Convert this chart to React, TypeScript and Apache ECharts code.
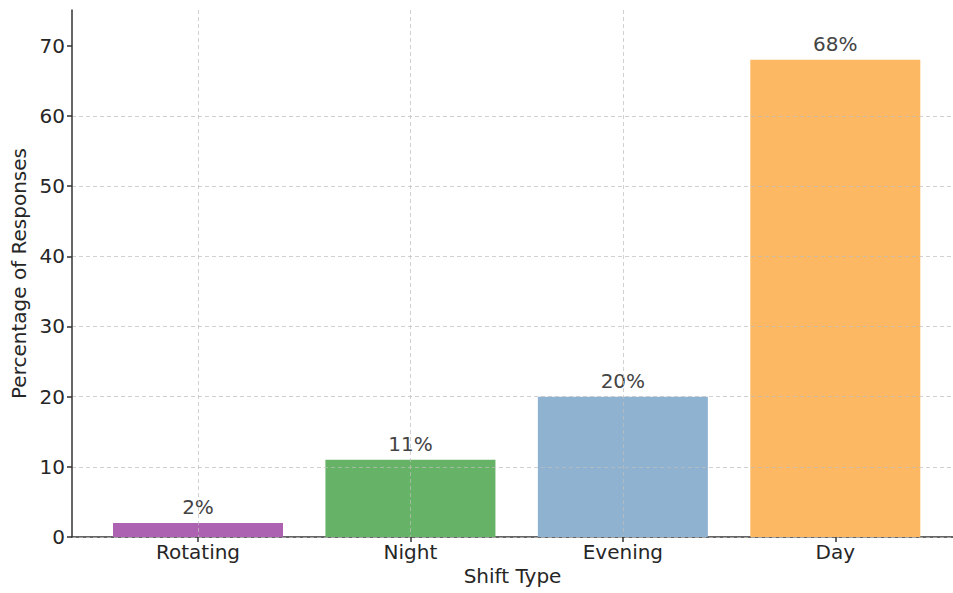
import React, { useEffect, useRef } from "react";
import * as echarts from "echarts";

// Survey results: preferred shift type
const categories = ["Rotating", "Night", "Evening", "Day"];
const percentages = [2, 11, 20, 68];
const barColors = ["#AD62B1", "#66B266", "#8FB2D1", "#FDB863"];
const yTickValues = [0, 10, 20, 30, 40, 50, 60, 70];

const FONT = "DejaVu Sans";
const FONT_SIZE = 20;
const Y_MAX = 75.1;

export default function App() {
  const ref = useRef<HTMLDivElement>(null);

  useEffect(() => {
    document.body.style.margin = "0";
    const chart = echarts.init(ref.current!, null, { renderer: "svg" });

    const spine = { color: "#333333", width: 1.5 };
    const gridLine = {
      show: true,
      showMaxLine: false,
      lineStyle: { color: "rgba(190,190,190,0.7)", type: [4, 3], width: 1 },
    };

    chart.setOption({
      animation: false,
      backgroundColor: "#ffffff",
      textStyle: { fontFamily: FONT },
      grid: [
        // full plotting area (spines, horizontal grid)
        { left: 72, top: 10, width: 892, bottom: 56 },
        // category area spanning first to last bar centre
        { left: 198, top: 10, width: 637.3, bottom: 56 },
      ],
      xAxis: [
        {
          gridIndex: 0,
          type: "value",
          min: 0,
          max: 1,
          axisLine: { show: true, onZero: false, lineStyle: spine },
          axisTick: { show: false },
          axisLabel: { show: false },
          splitLine: { show: false },
          name: "Shift Type",
          nameLocation: "middle",
          nameGap: 29,
          nameTextStyle: { fontSize: FONT_SIZE, color: "#262626", fontFamily: FONT },
        },
        {
          gridIndex: 1,
          type: "category",
          data: categories,
          boundaryGap: false,
          z: 5,
          axisLine: { show: false },
          axisTick: { show: true, length: 5, lineStyle: spine },
          axisLabel: { fontSize: FONT_SIZE, color: "#262626", margin: 5, fontFamily: FONT },
          splitLine: gridLine,
        },
      ],
      yAxis: [
        {
          gridIndex: 0,
          type: "value",
          min: 0,
          max: Y_MAX,
          interval: 10,
          z: 5,
          axisLine: { show: true, lineStyle: spine },
          axisTick: { show: true, length: 5, lineStyle: spine, customValues: yTickValues },
          axisLabel: {
            fontSize: FONT_SIZE,
            color: "#262626",
            margin: 7,
            fontFamily: FONT,
            customValues: yTickValues,
          },
          splitLine: gridLine,
          name: "Percentage of Responses",
          nameLocation: "middle",
          nameGap: 39,
          nameTextStyle: { fontSize: FONT_SIZE, color: "#262626", fontFamily: FONT },
        },
        { gridIndex: 1, type: "value", min: 0, max: Y_MAX, show: false },
      ],
      series: [
        {
          type: "bar",
          xAxisIndex: 1,
          yAxisIndex: 1,
          barWidth: 170,
          clip: false,
          data: percentages.map((v, i) => ({ value: v, itemStyle: { color: barColors[i] } })),
          label: {
            show: true,
            position: "top",
            distance: 6,
            formatter: "{c}%",
            fontSize: FONT_SIZE,
            color: "#444444",
            fontFamily: FONT,
          },
        },
      ],
    });

    return () => chart.dispose();
  }, []);

  return (
    <div
      ref={ref}
      style={{ position: "fixed", left: 0, top: 0, width: 953, height: 593 }}
    />
  );
}
